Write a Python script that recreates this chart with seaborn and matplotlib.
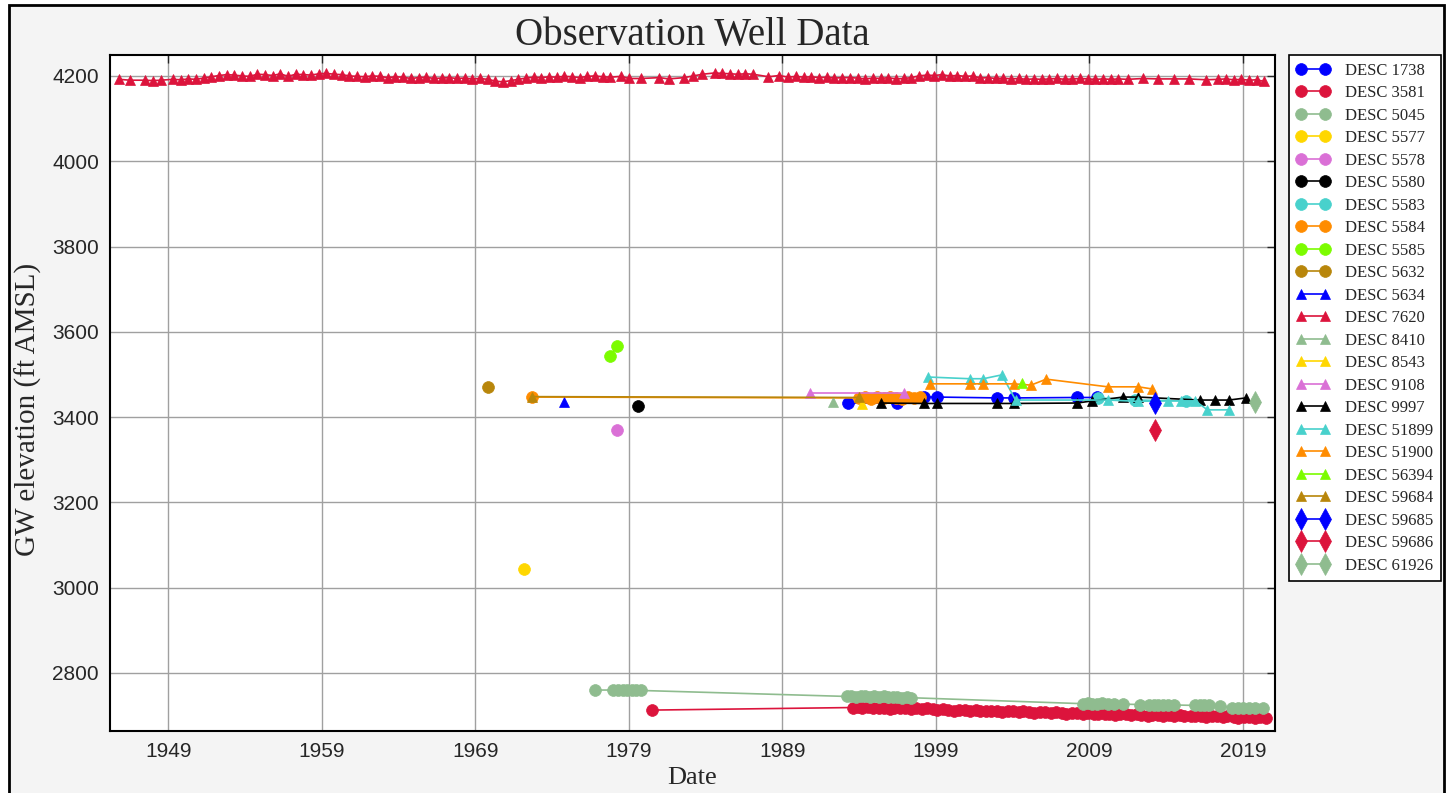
import matplotlib
matplotlib.use("Agg")
import matplotlib.pyplot as plt
from matplotlib.patches import Rectangle
import seaborn as sns

# ================= DATOS (año decimal, elevación ft AMSL) =================
# --- círculos ---
x_1738 = [1993.3, 1996.5, 1998.2, 1999.1, 2003.0, 2004.1, 2008.2, 2009.5]
y_1738 = [3433, 3433, 3447, 3447, 3445, 3445, 3446, 3446]

x_3581 = [1980.5, 1993.6, 1993.9, 1994.2, 1994.6, 1994.9, 1995.3, 1995.6, 1996.0, 1996.3,
          1996.7, 1997.0, 1997.4, 1997.7, 1998.1, 1998.4, 1998.8, 1999.1, 1999.5, 1999.8,
          2000.2, 2000.5, 2000.9, 2001.2, 2001.6, 2001.9, 2002.3, 2002.6, 2003.0, 2003.3,
          2003.7, 2004.0, 2004.4, 2004.7, 2005.1, 2005.4, 2005.8, 2006.1, 2006.5, 2006.8,
          2007.2, 2007.5, 2007.9, 2008.2, 2008.6, 2008.9, 2009.3, 2009.6, 2010.0, 2010.3,
          2010.7, 2011.0, 2011.4, 2011.7, 2012.1, 2012.4, 2012.8, 2013.1, 2013.5, 2013.8,
          2014.2, 2014.5, 2014.9, 2015.2, 2015.6, 2015.9, 2016.3, 2016.6, 2017.0, 2017.3,
          2017.7, 2018.0, 2018.4, 2018.7, 2019.1, 2019.4, 2019.8, 2020.1, 2020.5]
y_3581 = [2713, 2719, 2721, 2718, 2720, 2717, 2719, 2718, 2716, 2718,
          2717, 2719, 2716, 2717, 2715, 2717, 2716, 2714, 2716, 2714,
          2712, 2714, 2713, 2711, 2713, 2712, 2710, 2712, 2711, 2709,
          2711, 2710, 2708, 2710, 2709, 2707, 2709, 2708, 2706, 2708,
          2707, 2705, 2707, 2706, 2704, 2706, 2705, 2703, 2705, 2704,
          2702, 2704, 2703, 2701, 2703, 2702, 2700, 2702, 2701, 2699,
          2701, 2700, 2702, 2700, 2698, 2700, 2699, 2697, 2699, 2698,
          2696, 2698, 2697, 2695, 2697, 2696, 2694, 2696, 2695]

x_5045 = [1976.8, 1978.0, 1978.3, 1978.6, 1978.9, 1979.2, 1979.5, 1979.8,
          1993.2, 1993.5, 1993.8, 1994.1, 1994.4, 1994.7, 1995.0, 1995.3, 1995.6, 1995.9,
          1996.2, 1996.5, 1996.8, 1997.1, 1997.4,
          2008.6, 2008.9, 2009.2, 2009.5, 2009.8, 2010.2, 2010.6, 2011.2, 2012.3, 2012.9,
          2013.2, 2013.5, 2013.8, 2014.1, 2014.5, 2015.9, 2016.2, 2016.5, 2016.8, 2017.5,
          2018.3, 2018.7, 2019.0, 2019.4, 2019.8, 2020.3]
y_5045 = [2760, 2760, 2761, 2759, 2760, 2761, 2760, 2759,
          2745, 2746, 2744, 2745, 2746, 2744, 2745, 2744, 2745, 2743,
          2744, 2743, 2742, 2743, 2742,
          2728, 2729, 2727, 2728, 2729, 2727, 2728, 2727, 2726, 2726,
          2725, 2726, 2725, 2726, 2725, 2724, 2725, 2724, 2724, 2723,
          2718, 2719, 2718, 2719, 2718, 2718]

x_5577, y_5577 = [1972.2], [3044]
x_5578, y_5578 = [1978.2], [3370]
x_5580, y_5580 = [1979.6], [3426]
x_5583, y_5583 = [2009.6, 2012.0, 2015.3], [3445, 3440, 3438]
x_5584 = [1972.7, 1994.0, 1994.4, 1994.8, 1995.2, 1995.6, 1996.0, 1996.4, 1996.8, 1997.2, 1997.6, 1998.0]
y_5584 = [3447, 3445, 3447, 3443, 3446, 3444, 3447, 3445, 3443, 3446, 3444, 3446]
x_5585, y_5585 = [1977.8, 1978.2], [3543, 3567]
x_5632, y_5632 = [1969.8], [3471]

# --- triángulos ---
x_5634, y_5634 = [1974.8], [3435]

x_7620 = [1945.8, 1946.5, 1947.5, 1948.0, 1948.5, 1949.3, 1949.8, 1950.3, 1950.8, 1951.3,
          1951.8, 1952.3, 1952.8, 1953.3, 1953.8, 1954.3, 1954.8, 1955.3, 1955.8, 1956.3,
          1956.8, 1957.3, 1957.8, 1958.3, 1958.8, 1959.3, 1959.8, 1960.3, 1960.8, 1961.3,
          1961.8, 1962.3, 1962.8, 1963.3, 1963.8, 1964.3, 1964.8, 1965.3, 1965.8, 1966.3,
          1966.8, 1967.3, 1967.8, 1968.3, 1968.8, 1969.3, 1969.8, 1970.3, 1970.8, 1971.3,
          1971.8, 1972.3, 1972.8, 1973.3, 1973.8, 1974.3, 1974.8, 1975.3, 1975.8, 1976.3,
          1976.8, 1977.3, 1977.8, 1978.5, 1979.0, 1979.8, 1981.0, 1981.6, 1982.6, 1983.2,
          1983.8, 1984.6, 1985.1, 1985.6, 1986.1, 1986.6, 1987.1, 1988.1, 1988.8, 1989.4,
          1989.9, 1990.4, 1990.9, 1991.4, 1991.9, 1992.4, 1992.9, 1993.4, 1993.9, 1994.4,
          1994.9, 1995.4, 1995.9, 1996.4, 1996.9, 1997.4, 1997.9, 1998.4, 1998.9, 1999.4,
          1999.9, 2000.4, 2000.9, 2001.4, 2001.9, 2002.4, 2002.9, 2003.4, 2003.9, 2004.4,
          2004.9, 2005.4, 2005.9, 2006.4, 2006.9, 2007.4, 2007.9, 2008.4, 2008.9, 2009.4,
          2009.9, 2010.4, 2010.9, 2011.5, 2012.5, 2013.5, 2014.5, 2015.5, 2016.6, 2017.4,
          2017.9, 2018.4, 2018.9, 2019.4, 2019.9, 2020.4]
y_7620 = [4192, 4190, 4190, 4189, 4190, 4192, 4191, 4193, 4192, 4195,
          4198, 4201, 4203, 4202, 4200, 4199, 4204, 4203, 4201, 4205,
          4199, 4204, 4203, 4202, 4205, 4206, 4204, 4203, 4200, 4199,
          4198, 4200, 4199, 4196, 4198, 4197, 4194, 4196, 4197, 4194,
          4195, 4196, 4194, 4195, 4193, 4194, 4192, 4188, 4186, 4189,
          4192, 4195, 4197, 4196, 4198, 4197, 4199, 4198, 4196, 4199,
          4200, 4198, 4197, 4199, 4194, 4194, 4196, 4193, 4196, 4200,
          4204, 4207, 4206, 4205, 4204, 4205, 4204, 4198, 4201, 4197,
          4199, 4197, 4198, 4196, 4197, 4195, 4196, 4196, 4195, 4193,
          4195, 4194, 4196, 4193, 4194, 4196, 4200, 4202, 4201, 4203,
          4200, 4201, 4199, 4200, 4195, 4196, 4194, 4195, 4193, 4194,
          4192, 4193, 4192, 4193, 4194, 4192, 4193, 4194, 4193, 4192,
          4193, 4192, 4193, 4192, 4194, 4193, 4193, 4193, 4191, 4192,
          4193, 4191, 4192, 4190, 4191, 4187]

x_8410, y_8410 = [1992.3], [3435]
x_8543, y_8543 = [1994.2], [3431]
x_9108, y_9108 = [1990.8, 1996.9], [3457, 3457]
x_9997 = [1995.4, 1998.2, 1999.1, 2003.0, 2004.1, 2008.2, 2009.2, 2011.2, 2012.2,
          2016.2, 2017.2, 2018.1, 2019.2]
y_9997 = [3433, 3432, 3432, 3432, 3432, 3433, 3438, 3447, 3447, 3440, 3440, 3440, 3445]
x_51899 = [1998.5, 2001.2, 2002.1, 2003.3, 2004.2, 2010.2, 2012.2, 2014.1, 2015.0,
           2015.9, 2016.7, 2018.1]
y_51899 = [3494, 3490, 3490, 3499, 3440, 3440, 3437, 3438, 3438, 3438, 3417, 3417]
x_51900 = [1998.6, 2001.2, 2002.1, 2004.1, 2005.2, 2006.2, 2010.2, 2012.2, 2013.1]
y_51900 = [3478, 3478, 3478, 3478, 3475, 3489, 3471, 3471, 3466]
x_56394, y_56394 = [2004.6], [3480]
x_59684, y_59684 = [1972.7, 1994.0], [3448, 3446]

# --- diamantes ---
x_59685, y_59685 = [2013.3], [3433]
x_59686, y_59686 = [2013.3], [3370]
x_61926, y_61926 = [2019.8], [3435]

series = [
    ("DESC 1738", x_1738, y_1738, "o", "blue"),
    ("DESC 3581", x_3581, y_3581, "o", "crimson"),
    ("DESC 5045", x_5045, y_5045, "o", "darkseagreen"),
    ("DESC 5577", x_5577, y_5577, "o", "gold"),
    ("DESC 5578", x_5578, y_5578, "o", "orchid"),
    ("DESC 5580", x_5580, y_5580, "o", "black"),
    ("DESC 5583", x_5583, y_5583, "o", "mediumturquoise"),
    ("DESC 5584", x_5584, y_5584, "o", "darkorange"),
    ("DESC 5585", x_5585, y_5585, "o", "lawngreen"),
    ("DESC 5632", x_5632, y_5632, "o", "darkgoldenrod"),
    ("DESC 5634", x_5634, y_5634, "^", "blue"),
    ("DESC 7620", x_7620, y_7620, "^", "crimson"),
    ("DESC 8410", x_8410, y_8410, "^", "darkseagreen"),
    ("DESC 8543", x_8543, y_8543, "^", "gold"),
    ("DESC 9108", x_9108, y_9108, "^", "orchid"),
    ("DESC 9997", x_9997, y_9997, "^", "black"),
    ("DESC 51899", x_51899, y_51899, "^", "mediumturquoise"),
    ("DESC 51900", x_51900, y_51900, "^", "darkorange"),
    ("DESC 56394", x_56394, y_56394, "^", "lawngreen"),
    ("DESC 59684", x_59684, y_59684, "^", "darkgoldenrod"),
    ("DESC 59685", x_59685, y_59685, "d", "blue"),
    ("DESC 59686", x_59686, y_59686, "d", "crimson"),
    ("DESC 61926", x_61926, y_61926, "d", "darkseagreen"),
]

tick_years = [1949, 1959, 1969, 1979, 1989, 1999, 2009, 2019]
tick_elev = [2800, 3000, 3200, 3400, 3600, 3800, 4000, 4200]

# ================= GRÁFICO =================
sns.set_style("white")
plt.rcParams['font.family'] = ['Liberation Serif', 'DejaVu Serif']

fig = plt.figure(figsize=(14.53, 7.93), dpi=100, facecolor='white')
fig.patches.append(Rectangle((0.006, -0.01), 0.988, 1.0037, transform=fig.transFigure,
                             facecolor='#f4f4f4', edgecolor='black', linewidth=2, zorder=-10))
ax = fig.add_axes([0.0757, 0.0782, 0.8018, 0.8524])
ax.set_facecolor('white')

sizes = {"o": 8.5, "^": 7.5, "d": 11}
for nombre, xs, ys, mk, col in series:
    sns.lineplot(x=xs, y=ys, ax=ax, marker=mk, color=col, label=nombre,
                 markersize=sizes[mk], markeredgecolor=col, markeredgewidth=0.5,
                 linewidth=1.2, estimator=None, sort=False)

ax.set_xlim(1945.2, 2021.1)
ax.set_ylim(2664, 4249)
ax.set_xticks(tick_years)
ax.set_xticklabels([str(t) for t in tick_years])
ax.set_yticks(tick_elev)
ax.grid(True, color='#a0a0a0', linewidth=1)
ax.set_axisbelow(True)
for s in ax.spines.values():
    s.set_color('black')
    s.set_linewidth(1.5)
ax.tick_params(direction='in', length=6, width=1, top=True, right=True,
               labelsize=15, pad=8)
for lbl in ax.get_xticklabels() + ax.get_yticklabels():
    lbl.set_family(['Liberation Sans', 'DejaVu Sans'])

ax.set_title('Observation Well Data', fontsize=28, pad=7)
ax.set_xlabel('Date', fontsize=19, labelpad=4)
ax.set_ylabel('GW elevation (ft AMSL)', fontsize=21)
ax.yaxis.set_label_coords(-0.058, 0.475)

leg = ax.legend(loc='upper left', bbox_to_anchor=(1.012, 1.0), fontsize=12,
                frameon=True, fancybox=False, edgecolor='black', facecolor='white',
                framealpha=1, numpoints=2, handlelength=2.0, labelspacing=0.39,
                borderpad=0.45, handletextpad=0.9, borderaxespad=0)
leg.get_frame().set_linewidth(1.2)

fig.savefig('out.png', dpi=100, facecolor=fig.get_facecolor())
